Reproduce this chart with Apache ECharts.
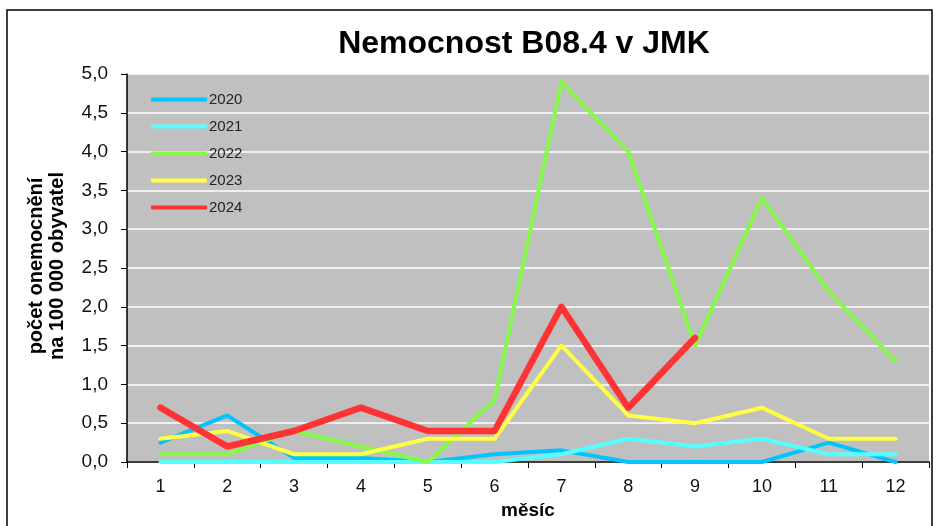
<!DOCTYPE html>
<html>
<head>
<meta charset="utf-8">
<script src="https://cdn.jsdelivr.net/npm/echarts@6/dist/echarts.min.js"></script>
<style>html,body{margin:0;padding:0;background:#fff}#c{width:939px;height:526px}</style>
</head>
<body>
<div id="c"></div>
<script>
const months = ['1','2','3','4','5','6','7','8','9','10','11','12'];
const seriesNames = ['2020','2021','2022','2023','2024'];
const v2020 = [0.25, 0.6, 0.05, 0.05, 0.0, 0.1, 0.15, 0.0, 0.0, 0.0, 0.25, 0.0];
const v2021 = [0.0, 0.0, 0.0, 0.0, 0.0, 0.0, 0.1, 0.3, 0.2, 0.3, 0.1, 0.1];
const v2022 = [0.1, 0.1, 0.4, 0.2, 0.0, 0.8, 4.9, 4.0, 1.5, 3.4, 2.2, 1.3];
const v2023 = [0.3, 0.4, 0.1, 0.1, 0.3, 0.3, 1.5, 0.6, 0.5, 0.7, 0.3, 0.3];
const v2024 = [0.7, 0.2, 0.4, 0.7, 0.4, 0.4, 2.0, 0.7, 1.6];
const titleText = 'Nemocnost B08.4 v JMK';
const yName = 'počet onemocnění\nna 100 000 obyvatel';
const xName = 'měsíc';

const colors = ['#00C4FF', '#55FFFF', '#88F84A', '#FFFF44', '#FF3333'];
const widths = [4, 4, 4, 4, 6.5];
const allData = [v2020, v2021, v2022, v2023, v2024];
const FONT = 'Liberation Sans, Arial, sans-serif';

const chart = echarts.init(document.getElementById('c'));
chart.setOption({
  backgroundColor: '#ffffff',
  animation: false,
  color: colors,
  title: {
    text: titleText,
    left: 519, top: 23,
    textAlign: 'center',
    textStyle: {fontFamily: FONT, fontSize: 32, fontWeight: 'bold', color: '#000'}
  },
  legend: {
    orient: 'vertical',
    left: 146, top: 87,
    itemWidth: 56, itemHeight: 4, itemGap: 12,
    icon: 'roundRect',
    textStyle: {fontFamily: FONT, fontSize: 15, color: '#222', padding: [0,0,0,-3]},
    data: seriesNames
  },
  grid: {left: 127, right: 10, top: 74, bottom: 64, show: true, backgroundColor: '#C0C0C0', borderWidth: 0},
  xAxis: {
    type: 'category',
    data: months,
    boundaryGap: true,
    name: xName,
    nameLocation: 'middle',
    nameGap: 38,
    nameTextStyle: {fontFamily: FONT, fontSize: 19, fontWeight: 'bold', color: '#000'},
    axisLine: {lineStyle: {color: '#000', width: 1.5}},
    axisTick: {show: true, length: 6, lineStyle: {color: '#000', width: 1}},
    axisLabel: {fontFamily: FONT, fontSize: 18, color: '#111', margin: 16},
    splitLine: {show: false}
  },
  yAxis: {
    type: 'value',
    min: 0, max: 5, interval: 0.5,
    axisLine: {show: true, lineStyle: {color: '#000', width: 1.5}},
    axisTick: {show: true, length: 6, lineStyle: {color: '#000', width: 1}},
    axisLabel: {fontFamily: FONT, fontSize: 19, color: '#111', margin: 19,
      formatter: v => v.toFixed(1).replace('.', ',')},
    splitLine: {show: true, lineStyle: {color: '#ffffff', width: 1.5}}
  },
  graphic: [
    {type: 'text', x: 47, y: 266, rotation: Math.PI / 2,
      style: {text: yName, font: 'bold 20px ' + FONT, fill: '#000',
        textAlign: 'center', textVerticalAlign: 'middle', lineHeight: 21}},
    {type: 'polyline', shape: {points: [[7, 540], [7, 10], [932, 10], [932, 540]]},
      style: {stroke: '#000', lineWidth: 1.5, fill: null}, z: 100}
  ],
  series: seriesNames.map((n, i) => ({
    name: n, type: 'line', data: allData[i], symbol: 'none', smooth: false,
    lineStyle: {color: colors[i], width: widths[i], cap: 'round', join: 'round'},
    itemStyle: {color: colors[i]}
  }))
});
</script>
</body>
</html>
